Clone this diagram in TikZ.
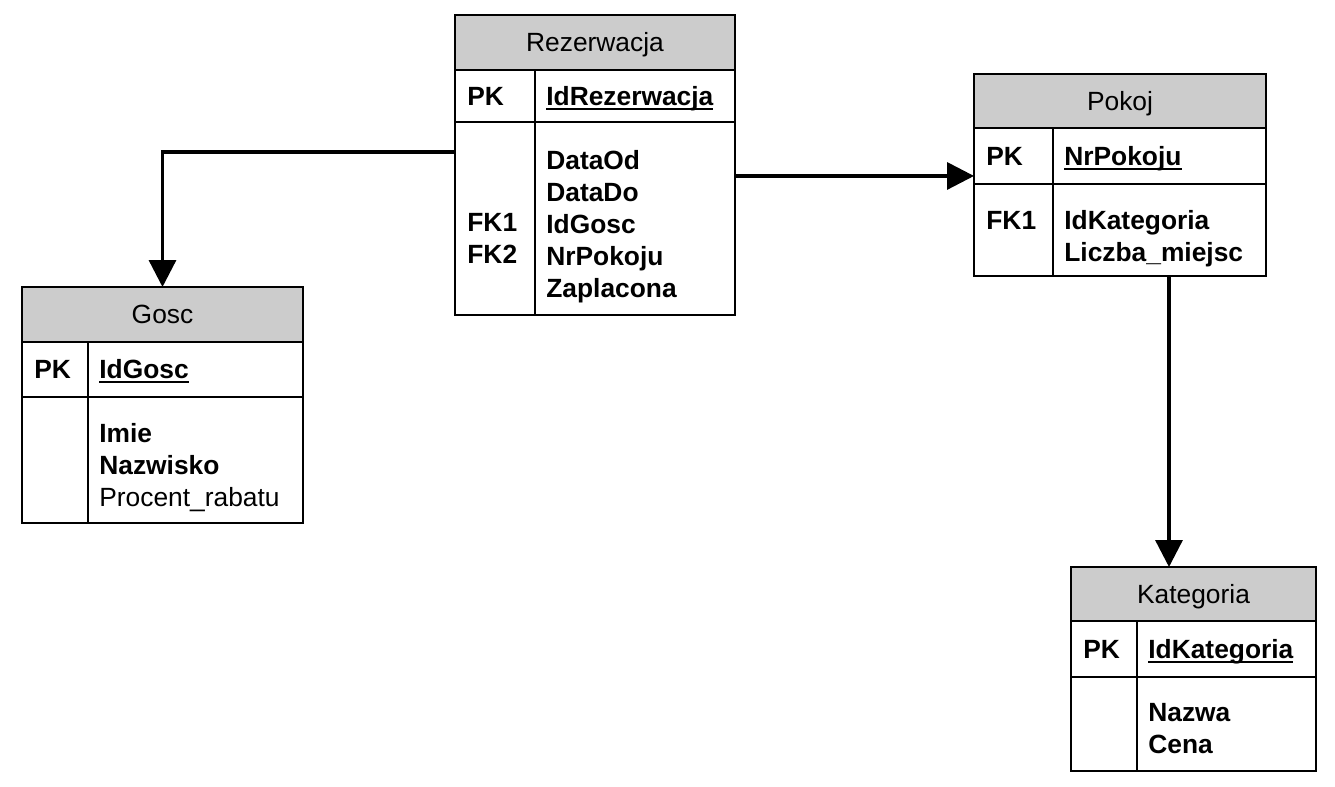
\documentclass[tikz,border=0pt]{standalone}
\usepackage{fontspec}
\setmainfont{Liberation Sans}
\usetikzlibrary{arrows.meta, positioning}

\newcommand{\tabfont}{\fontsize{15pt}{18.14pt}\selectfont}
\newcommand{\pkname}[1]{\setbox0\hbox{#1}\rlap{\rule[-2.3pt]{\wd0}{0.9pt}}\box0}

\tikzset{
  tabhead/.style={draw, line width=1.1pt, fill=gray!40, inner sep=0pt, outer sep=0pt,
    font=\tabfont, text height=10.8pt, text depth=0pt},
  tabrow/.style={draw, line width=1.1pt, inner sep=0pt, outer sep=0pt},
  tabrule/.style={line width=1.1pt},
  keytxt/.style={inner sep=0pt, align=left, font=\tabfont\bfseries},
  fk/.style={line width=1.9pt, -{Triangle[length=0.54cm, width=0.54cm]}}
}

\begin{document}
\begin{tikzpicture}[x=0.02cm, y=-0.02cm]
      \useasboundingbox (0,0) rectangle (1335,787);

      % Rezerwacja
      \node[tabhead, minimum width=5.6cm, minimum height=1.1cm] (rez) at (595, 42.5) {Rezerwacja};
      \node[tabrow, minimum width=5.6cm, minimum height=1.04cm, below=0pt of rez] (rez-pk) {};
      \node[tabrow, minimum width=5.6cm, minimum height=3.86cm, below=0pt of rez-pk] (rez-body) {};
      \draw[tabrule] ([xshift=1.6cm]rez-pk.north west) -- ([xshift=1.6cm]rez-body.south west);
      \node[keytxt, anchor=base west] (rez-pk-k) at ([xshift=0.24cm, yshift=-0.19cm]rez-pk.west) {PK};
      \node[keytxt, anchor=base west] (rez-pk-f) at ([xshift=1.82cm, yshift=-0.19cm]rez-pk.west) {\pkname{IdRezerwacja}};
      \node[keytxt, anchor=north west] (rez-fk) at ([xshift=0.24cm, yshift=-1.83cm]rez-body.north west) {FK1\\FK2};
      \node[keytxt, anchor=north west] (rez-f) at ([xshift=1.82cm, yshift=-0.57cm]rez-body.north west) {DataOd\\DataDo\\IdGosc\\NrPokoju\\Zaplacona};

      % Gosc
      \node[tabhead, minimum width=5.62cm, minimum height=1.1cm] (gosc) at (162.5, 314.5) {Gosc};
      \node[tabrow, minimum width=5.62cm, minimum height=1.1cm, below=0pt of gosc] (gosc-pk) {};
      \node[tabrow, minimum width=5.62cm, minimum height=2.52cm, below=0pt of gosc-pk] (gosc-body) {};
      \draw[tabrule] ([xshift=1.32cm]gosc-pk.north west) -- ([xshift=1.32cm]gosc-body.south west);
      \node[keytxt, anchor=base west] (gosc-pk-k) at ([xshift=0.24cm, yshift=-0.19cm]gosc-pk.west) {PK};
      \node[keytxt, anchor=base west] (gosc-pk-f) at ([xshift=1.54cm, yshift=-0.19cm]gosc-pk.west) {\pkname{IdGosc}};
      \node[keytxt, anchor=north west] (gosc-f) at ([xshift=1.54cm, yshift=-0.53cm]gosc-body.north west) {Imie\\Nazwisko\\\mdseries Procent\_rabatu};

      % Pokoj
      \node[tabhead, minimum width=5.84cm, minimum height=1.08cm] (pokoj) at (1120, 101) {Pokoj};
      \node[tabrow, minimum width=5.84cm, minimum height=1.12cm, below=0pt of pokoj] (pokoj-pk) {};
      \node[tabrow, minimum width=5.84cm, minimum height=1.84cm, below=0pt of pokoj-pk] (pokoj-body) {};
      \draw[tabrule] ([xshift=1.58cm]pokoj-pk.north west) -- ([xshift=1.58cm]pokoj-body.south west);
      \node[keytxt, anchor=base west] (pokoj-pk-k) at ([xshift=0.24cm, yshift=-0.19cm]pokoj-pk.west) {PK};
      \node[keytxt, anchor=base west] (pokoj-pk-f) at ([xshift=1.80cm, yshift=-0.19cm]pokoj-pk.west) {\pkname{NrPokoju}};
      \node[keytxt, anchor=north west] (pokoj-fk) at ([xshift=0.24cm, yshift=-0.55cm]pokoj-body.north west) {FK1};
      \node[keytxt, anchor=north west] (pokoj-f) at ([xshift=1.80cm, yshift=-0.53cm]pokoj-body.north west) {IdKategoria\\Liczba\_miejsc};

      % Kategoria
      \node[tabhead, minimum width=4.9cm, minimum height=1.08cm] (kat) at (1193.5, 594) {Kategoria};
      \node[tabrow, minimum width=4.9cm, minimum height=1.12cm, below=0pt of kat] (kat-pk) {};
      \node[tabrow, minimum width=4.9cm, minimum height=1.88cm, below=0pt of kat-pk] (kat-body) {};
      \draw[tabrule] ([xshift=1.32cm]kat-pk.north west) -- ([xshift=1.32cm]kat-body.south west);
      \node[keytxt, anchor=base west] (kat-pk-k) at ([xshift=0.24cm, yshift=-0.19cm]kat-pk.west) {PK};
      \node[keytxt, anchor=base west] (kat-pk-f) at ([xshift=1.54cm, yshift=-0.19cm]kat-pk.west) {\pkname{IdKategoria}};
      \node[keytxt, anchor=north west] (kat-f) at ([xshift=1.54cm, yshift=-0.53cm]kat-body.north west) {Nazwa\\Cena};

      % relacje
      \coordinate (relA) at ([yshift=-0.6cm]rez-body.north west);
      \draw[fk] (relA) -| (gosc.north);
      \coordinate (relB) at ([yshift=-1.08cm]rez-body.north east);
      \draw[fk] (relB) -- (relB -| pokoj.west);
      \coordinate (relC) at ([xshift=0.98cm]pokoj-body.south);
      \draw[fk] (relC) -- (relC |- kat.north);

    \end{tikzpicture}
\end{document}
